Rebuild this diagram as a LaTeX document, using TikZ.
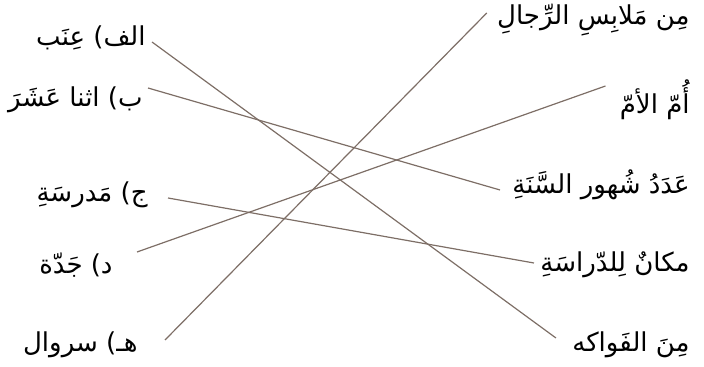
\documentclass[tikz,border=0pt]{standalone}
\usepackage{fontspec}
\newfontfamily\arabicfont[Script=Arabic]{DejaVu Sans}
\TeXXeTstate=1
\newcommand{\artext}[1]{\arabicfont\beginR #1\endR}
\definecolor{linkbrown}{RGB}{125,110,102}

\begin{document}
\begin{tikzpicture}[
  x=0.5pt, y=-0.5pt,
  lbl/.style={font=\fontsize{13}{16}\selectfont, inner sep=1pt},
  link/.style={draw=linkbrown, line width=0.6pt}
]
  \useasboundingbox (0,0) rectangle (704,367);

  % left column
  \node[lbl, anchor=east] (grape)  at (148,38)  {\artext{الف) عِنَب}};
  \node[lbl, anchor=east] (twelve) at (145,100) {\artext{ب) اثنا عَشَرَ}};
  \node[lbl, anchor=east] (school) at (150,195) {\artext{ج) مَدرسَةِ}};
  \node[lbl, anchor=east] (grandma) at (115,265) {\artext{د) جَدّة}};
  \node[lbl, anchor=east] (trousers) at (140,345) {\artext{هـ) سروال}};

  % right column
  \node[lbl, anchor=east] (clothes) at (692,20)  {\artext{مِن مَلابِسِ الرِّجالِ}};
  \node[lbl, anchor=east] (mother)  at (692,100) {\artext{أُمّ الأمّ}};
  \node[lbl, anchor=east] (months)  at (692,185) {\artext{عَدَدُ شُهور السَّنَةِ}};
  \node[lbl, anchor=east] (place)   at (692,265) {\artext{مكانٌ لِلدّراسَةِ}};
  \node[lbl, anchor=east] (fruits)  at (692,345) {\artext{مِنَ الفَواكه}};

  \draw[link] ([shift={(4,4)}]grape.east) -- ([shift={(-14,-7)}]fruits.west);
  \draw[link] ([shift={(3,-12)}]twelve.east) -- ([shift={(-10,5)}]months.west);
  \draw[link] ([shift={(18,3)}]school.east) -- ([shift={(-4,-2)}]place.west);
  \draw[link] ([shift={(22,-13)}]grandma.east) -- ([shift={(-12,-14)}]mother.west);
  \draw[link] ([shift={(25,-5)}]trousers.east) -- ([shift={(-8,-7)}]clothes.west);
\end{tikzpicture}
\end{document}
